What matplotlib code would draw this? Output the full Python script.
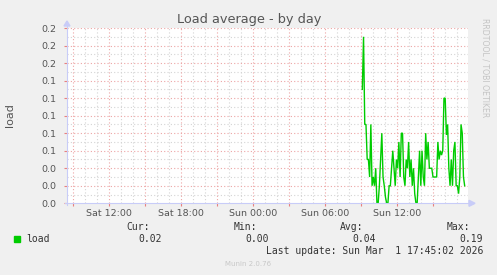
import numpy as np
import matplotlib
matplotlib.use("Agg")
import matplotlib.pyplot as plt
from matplotlib.lines import Line2D

W, H = 497, 275

# ---- data ----
title = "Load average - by day"
ylabel = "load"
tick_hours = [12, 18, 24, 30, 36]          # hours since Sat 00:00
tick_labels = ["Sat 12:00", "Sat 18:00", "Sun 00:00", "Sun 06:00", "Sun 12:00"]
series_start_h = 33.11                      # Sun ~09:07
series_end_h = 41.64                        # Sun ~17:38
load = [0.13, 0.19, 0.09, 0.09, 0.05, 0.05, 0.03, 0.09, 0.02, 0.03, 0.02, 0.04,
        0.00, 0.00, 0.02, 0.05, 0.08, 0.03, 0.02, 0.007, 0.00, 0.00, 0.02, 0.02,
        0.04, 0.06, 0.04, 0.02, 0.05, 0.04, 0.07, 0.03, 0.08, 0.08, 0.03, 0.02,
        0.05, 0.04, 0.07, 0.03, 0.05, 0.02, 0.04, 0.011, 0.00, 0.00, 0.03, 0.06,
        0.02, 0.06, 0.03, 0.02, 0.08, 0.05, 0.07, 0.04, 0.04, 0.04, 0.03, 0.03,
        0.03, 0.03, 0.07, 0.05, 0.06, 0.055, 0.06, 0.12, 0.12, 0.078, 0.09, 0.04,
        0.02, 0.05, 0.02, 0.06, 0.07, 0.02, 0.02, 0.011, 0.03, 0.09, 0.08, 0.03,
        0.02]
legend_name = "load"
stat_names = ["Cur:", "Min:", "Avg:", "Max:"]
stat_values = ["0.02", "0.00", "0.04", "0.19"]
last_update = "Last update: Sun Mar  1 17:45:02 2026"
footer = "Munin 2.0.76"
watermark = "RRDTOOL / TOBI OETIKER"

x_min, x_max = 8.5, 8.5 + 401 / 12
y_min, y_max = 0.0, 0.2

def fx(x):
    return x / W

def fy(y):
    return 1 - y / H

fig = plt.figure(figsize=(W / 100, H / 100), dpi=100, facecolor="#F0F0F0")
ax_l, ax_r, ax_t, ax_b = 67, 468, 28, 203.3
ax = fig.add_axes([fx(ax_l), fy(ax_b), (ax_r - ax_l) / W, (ax_b - ax_t) / H])
ax.set_facecolor("white")
ax.set_xlim(x_min, x_max)
ax.set_ylim(y_min, y_max)
for s in ax.spines.values():
    s.set_visible(False)

red = "#EDA5A5"
gray = "#D4D4D4"
# grid
minor_x = np.arange(9, 42, 1)
major_x = np.arange(9, 42, 3)
for xv in minor_x:
    if xv not in major_x:
        ax.axvline(xv, color=gray, lw=0.8, ls=(0, (1, 2)), zorder=1)
for xv in major_x:
    ax.axvline(xv, color=red, lw=0.8, ls=(0, (1, 2)), zorder=2)
yt = np.arange(11) * 0.02
for yv in np.arange(1, 20, 2) * 0.01:
    ax.axhline(yv, color=gray, lw=0.8, ls=(0, (1, 2)), zorder=1)
for yv in yt[1:]:
    ax.axhline(yv, color=red, lw=0.8, ls=(0, (1, 2)), zorder=2)

ax.set_yticks(yt)
ax.set_yticklabels([f"{v:.1f}" for v in yt])
ax.set_xticks(major_x, minor=False)
ax.set_xticklabels(["" for _ in major_x])
ax.tick_params(axis="both", length=2.5, width=0.8, color="#E88080", pad=5,
               labelsize=6.8, labelcolor="#555555")
ax.tick_params(axis="x", pad=3)
for h, lab in zip(tick_hours, tick_labels):
    ax.text(h, -0.0065, lab, ha="center", va="top", fontsize=6.8,
            color="#555555")

# series
t = np.linspace(series_start_h, series_end_h, len(load))
ax.plot(t, load, color="#00CC00", lw=1.0, zorder=5, solid_joinstyle="miter")

# axis arrows
axc = "#C8CCF8"
fig.add_artist(Line2D([fx(ax_l), fx(ax_l)], [fy(ax_b + 2), fy(ax_t - 4)],
                      color=axc, lw=0.8))
fig.add_artist(Line2D([fx(ax_l - 2), fx(ax_r + 4)], [fy(ax_b), fy(ax_b)],
                      color=axc, lw=0.8))
fig.patches.append(plt.Polygon([[fx(ax_l - 3), fy(ax_t - 2)], [fx(ax_l + 3), fy(ax_t - 2)],
                                [fx(ax_l), fy(ax_t - 7)]], closed=True,
                               transform=fig.transFigure, color=axc))
fig.patches.append(plt.Polygon([[fx(ax_r + 1), fy(ax_b - 3)], [fx(ax_r + 1), fy(ax_b + 3)],
                                [fx(ax_r + 7), fy(ax_b)]], closed=True,
                               transform=fig.transFigure, color=axc))

# texts
fig.text(fx(249.5), fy(19.5), title, ha="center", va="center", fontsize=9.3,
         color="#555555")
fig.text(fx(10), fy(115), ylabel, ha="center", va="center", rotation=90,
         fontsize=8, color="#555555")
fig.text(fx(485), fy(18), watermark, ha="center", va="top", rotation=270,
         fontsize=5.6, color="#C4C4C4")

mono = "DejaVu Sans Mono"
fig.patches.append(plt.Rectangle((fx(14), fy(241.7)), 6 / W, 5.5 / H,
                                 transform=fig.transFigure, color="#00CC00"))
fig.text(fx(26), fy(239.5), legend_name, ha="left", va="center", fontsize=7,
         family=mono, color="#333333")
name_right = [150, 257, 363, 470]
val_right = [162, 269, 376, 483]
for n, v, nr, vr in zip(stat_names, stat_values, name_right, val_right):
    fig.text(fx(nr), fy(227.5), n, ha="right", va="center", fontsize=7,
             family=mono, color="#333333")
    fig.text(fx(vr), fy(239.5), v, ha="right", va="center", fontsize=7,
             family=mono, color="#333333")
fig.text(fx(483), fy(251.5), last_update, ha="right", va="center", fontsize=7,
         family=mono, color="#333333")
fig.text(fx(248), fy(264), footer, ha="center", va="center", fontsize=5,
         color="#C8C8C8")

fig.savefig("out.png", dpi=100, facecolor=fig.get_facecolor())
